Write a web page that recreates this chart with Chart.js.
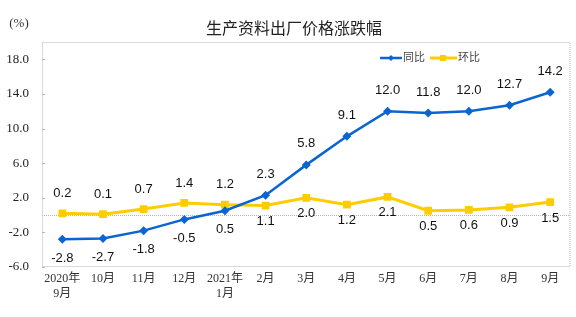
<!DOCTYPE html>
<html>
<head>
<meta charset="utf-8">
<script src="https://cdn.jsdelivr.net/npm/chart.js@4"></script>
<style>
  body { margin: 0; background: #fff; }
  canvas { display: block; }
</style>
</head>
<body>
<canvas id="priceChart" width="576" height="317"></canvas>
<script>
const months = [['2020年', '9月'], '10月', '11月', '12月', ['2021年', '1月'], '2月', '3月', '4月', '5月', '6月', '7月', '8月', '9月'];
const yoy = [-2.8, -2.7, -1.8, -0.5, 0.5, 2.3, 5.8, 9.1, 12.0, 11.8, 12.0, 12.7, 14.2];
const mom = [0.2, 0.1, 0.7, 1.4, 1.2, 1.1, 2.0, 1.2, 2.1, 0.5, 0.6, 0.9, 1.5];
const yTicks = [-6, -2, 2, 6, 10, 14, 18];

const blue = '#0a64d2';
const yellow = '#ffcc00';
const serif = "'Liberation Serif', 'Noto Sans CJK SC', serif";
const sans = "'Liberation Sans', 'Noto Sans CJK SC', sans-serif";

// frame, zero line, value labels, title, legend
const decorations = {
    id: 'decorations',
    beforeDatasetsDraw(chart) {
        const { ctx, chartArea: a, scales } = chart;
        ctx.save();
        ctx.strokeStyle = '#b4b4b4';
        ctx.lineWidth = 1;
        ctx.setLineDash([1, 1]);
        ctx.strokeRect(a.left + 0.5, a.top + 0.5, a.right - a.left - 1, a.bottom - a.top - 1);
        const y0 = Math.round(scales.y.getPixelForValue(0)) + 0.5;
        ctx.beginPath();
        ctx.moveTo(a.left, y0);
        ctx.lineTo(a.right, y0);
        ctx.stroke();
        // small ticks on the left axis
        ctx.setLineDash([]);
        yTicks.forEach(v => {
            const y = Math.round(scales.y.getPixelForValue(v)) + 0.5;
            ctx.beginPath();
            ctx.moveTo(a.left, y);
            ctx.lineTo(a.left + 3, y);
            ctx.stroke();
        });
        ctx.restore();
    },
    afterDatasetsDraw(chart) {
        const { ctx } = chart;
        ctx.save();
        ctx.font = '13px ' + sans;
        ctx.fillStyle = '#111';
        ctx.textAlign = 'center';
        ctx.textBaseline = 'middle';
        chart.getDatasetMeta(0).data.forEach((pt, i) => {
            const dy = i < 5 ? 19 : -21;
            ctx.fillText(yoy[i].toFixed(1), pt.x, pt.y + dy);
        });
        chart.getDatasetMeta(1).data.forEach((pt, i) => {
            const dy = i < 5 ? -20 : 16;
            ctx.fillText(mom[i].toFixed(1), pt.x, pt.y + dy);
        });
        ctx.restore();
    },
    afterDraw(chart) {
        const { ctx } = chart;
        ctx.save();
        ctx.fillStyle = '#222';
        ctx.textBaseline = 'middle';
        ctx.textAlign = 'center';
        ctx.font = '16px ' + sans;
        ctx.fillText('生产资料出厂价格涨跌幅', 294, 30);
        ctx.font = '13px ' + serif;
        ctx.fillStyle = '#333';
        ctx.fillText('(%)', 19, 24);

        // legend
        ctx.textAlign = 'left';
        ctx.font = '11px ' + sans;
        ctx.fillStyle = '#444';
        const ly = 58;
        ctx.lineWidth = 2.5;
        ctx.strokeStyle = blue;
        ctx.beginPath(); ctx.moveTo(380, ly); ctx.lineTo(402, ly); ctx.stroke();
        ctx.fillStyle = blue;
        ctx.beginPath();
        ctx.moveTo(391, ly - 3); ctx.lineTo(394, ly); ctx.lineTo(391, ly + 3); ctx.lineTo(388, ly);
        ctx.closePath(); ctx.fill();
        ctx.fillStyle = '#444';
        ctx.fillText('同比', 403, ly);
        ctx.lineWidth = 3;
        ctx.strokeStyle = yellow;
        ctx.beginPath(); ctx.moveTo(430, ly); ctx.lineTo(457, ly); ctx.stroke();
        ctx.fillStyle = yellow;
        ctx.fillRect(440, ly - 3, 6, 6);
        ctx.fillStyle = '#444';
        ctx.fillText('环比', 458, ly);
        ctx.restore();
    }
};

const ctx = document.getElementById('priceChart').getContext('2d');
const priceChart = new Chart(ctx, {
    type: 'line',
    data: {
        labels: months,
        datasets: [{
            label: '同比',
            data: yoy,
            borderColor: blue,
            backgroundColor: blue,
            borderWidth: 2.5,
            pointStyle: 'rectRot',
            pointRadius: 4.5,
            pointBorderWidth: 0,
            tension: 0
        }, {
            label: '环比',
            data: mom,
            borderColor: yellow,
            backgroundColor: yellow,
            borderWidth: 3,
            pointStyle: 'rect',
            pointRadius: 5.5,
            pointBorderWidth: 0,
            tension: 0
        }]
    },
    options: {
        responsive: false,
        animation: false,
        layout: {
            padding: { top: 42, right: 5, left: 0, bottom: 0 }
        },
        plugins: {
            legend: { display: false },
            title: { display: false },
            tooltip: { enabled: false }
        },
        scales: {
            x: {
                offset: true,
                grid: { display: false, drawTicks: false },
                border: { display: false },
                ticks: {
                    color: '#333',
                    font: { family: serif, size: 12 },
                    padding: 5,
                    maxRotation: 0,
                    autoSkip: false
                },
                afterFit(axis) { axis.height = 50; }
            },
            y: {
                min: -6,
                max: 20,
                grid: { display: false, drawTicks: false },
                border: { display: false },
                afterBuildTicks(axis) {
                    axis.ticks = yTicks.map(v => ({ value: v }));
                },
                ticks: {
                    color: '#222',
                    font: { family: serif, size: 13 },
                    padding: 13,
                    callback: v => v.toFixed(1)
                },
                afterFit(axis) { axis.width = 42; }
            }
        }
    },
    plugins: [decorations]
});
</script>
</body>
</html>
